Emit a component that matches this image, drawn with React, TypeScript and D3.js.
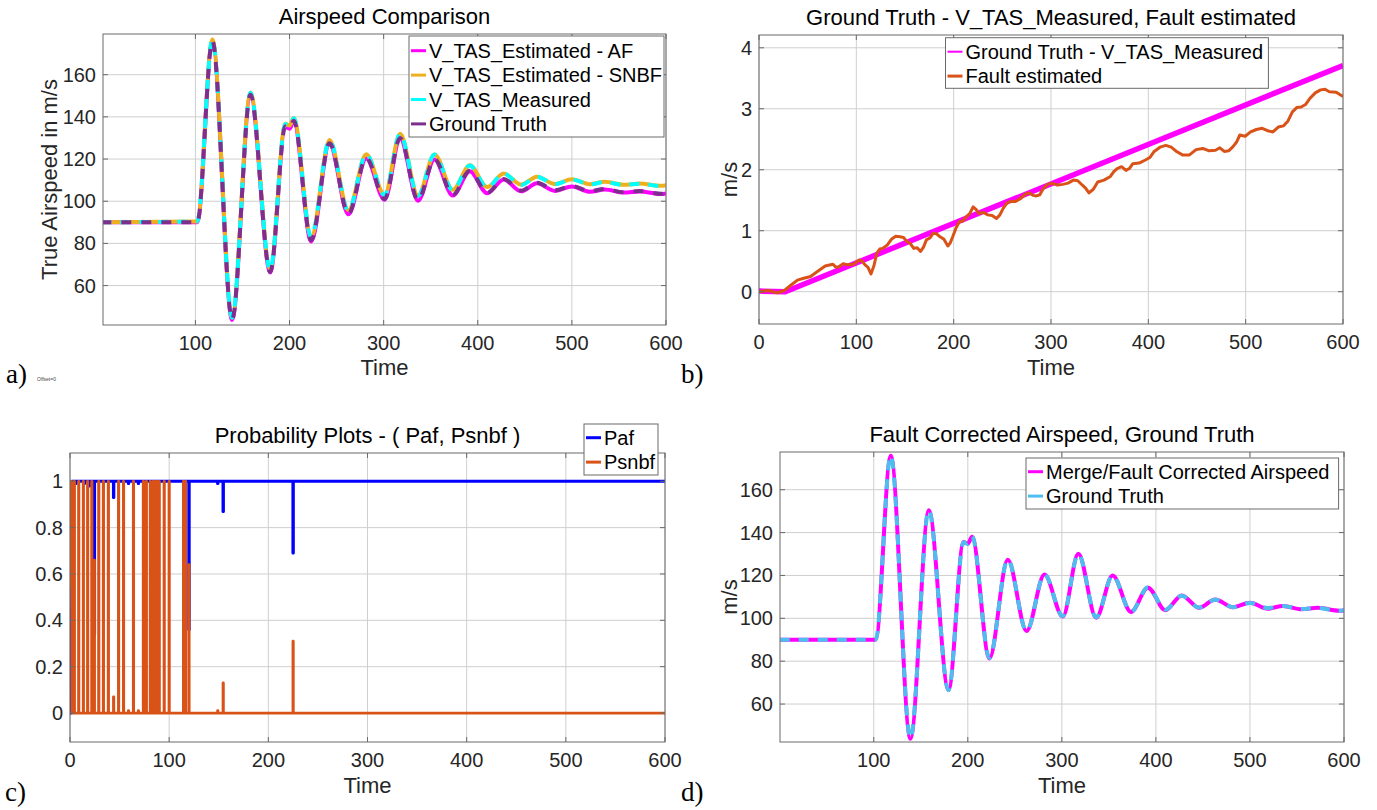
import React from 'react';
import * as d3 from 'd3';

const SANS = '"Liberation Sans", Arial, Helvetica, sans-serif';
const SERIF = '"Liberation Serif", "Times New Roman", Times, serif';

// ---------------- DATA ----------------
// Panel a / d : airspeed key samples (time in s, m/s)
const airTime = [0, 102, 118, 139, 158.5, 179.5, 195.5, 200, 204.5, 223, 242.5, 262.5, 281.5, 301, 317.5, 336.5, 354, 373.5, 391.5, 410, 427.5, 446, 463, 482, 500, 519, 535, 555, 572, 595, 600];
const groundTruth = [90, 90, 176, 44, 150.5, 66.5, 135.5, 134.7, 138.2, 81.5, 127.5, 94, 120.5, 101, 130, 100.5, 120, 103, 114.5, 104, 110.5, 105, 108.7, 105.2, 107.2, 104.8, 105.8, 104.3, 104.8, 103.5, 103.8];
const afEstimate = [90, 90, 175.8, 43.7, 150.3, 66.2, 135.2, 134.4, 137.9, 80.9, 127.2, 93.8, 120.2, 100.7, 129.8, 100.2, 119.8, 102.7, 114.2, 103.8, 110.3, 104.7, 108.5, 104.9, 107, 104.5, 105.5, 104.1, 104.6, 103.4, 103.7];
const tasMeasured = [90, 90.4, 176.6, 44.7, 151.4, 67.5, 136.6, 135.8, 139.4, 82.8, 128.9, 95.5, 122.2, 102.8, 131.9, 102.5, 122.1, 105.2, 116.9, 106.5, 113.1, 107.7, 111.5, 108.1, 110.3, 108, 109.1, 107.7, 108.3, 107.2, 107.5];
const snbfEstimate = [90, 90.4, 176.7, 44.9, 151.5, 67.7, 136.7, 135.9, 139.5, 83, 129, 95.7, 122.3, 103, 132, 102.7, 122.2, 105.4, 117, 106.7, 113.2, 107.9, 111.6, 108.2, 110.4, 108.1, 109.2, 107.8, 108.4, 107.3, 107.6];
const mergedAirspeed = [90, 90, 175.9, 43.8, 150.4, 66.6, 135.6, 134.8, 138.1, 81.3, 127.3, 94.1, 120.4, 100.8, 130.1, 100.3, 120, 103, 114.3, 103.8, 110.7, 104.9, 108.8, 105.2, 107.3, 104.5, 105.8, 104.2, 104.9, 103.5, 103.7];

// Panel b
const gtDiffTime = [0, 27, 600];
const gtDiff = [0.01, 0, 3.71];
const faultTime = [0, 9.5, 19, 26, 33, 39.5, 46, 53, 60, 68, 76, 79, 82, 86.5, 91, 97, 103, 106, 109, 112, 115, 118, 121, 124, 127, 131.5, 136, 140.5, 145, 148.5, 152, 155.5, 159, 162.5, 166, 169, 172, 175.5, 179, 182.5, 186, 190, 194, 196.5, 199, 202.5, 206, 209.5, 213, 216.5, 220, 223, 226, 230.5, 235, 239.5, 244, 247.5, 251, 254.5, 258, 263.5, 269, 273.5, 278, 281.5, 285, 288.5, 292, 296.5, 301, 306.5, 312, 317.5, 323, 327.5, 332, 335.5, 339, 343.5, 348, 354.5, 361, 364.5, 368, 372.5, 377, 380.5, 384, 390.5, 397, 401.5, 406, 412, 418, 423.5, 429, 435.5, 442, 449, 456, 462.5, 469, 473.5, 478, 482.5, 487, 490.5, 494, 499.5, 505, 511, 517, 522.5, 528, 533.5, 539, 543.5, 548, 552.5, 557, 561.5, 566, 571.5, 577, 581.5, 586, 593, 600];
const faultEstimated = [0, 0.02, -0.02, 0.02, 0.11, 0.19, 0.22, 0.25, 0.33, 0.42, 0.45, 0.4, 0.41, 0.46, 0.44, 0.45, 0.52, 0.5, 0.44, 0.4, 0.29, 0.42, 0.63, 0.7, 0.71, 0.76, 0.86, 0.91, 0.9, 0.89, 0.82, 0.79, 0.71, 0.72, 0.66, 0.73, 0.85, 0.88, 0.96, 0.95, 0.9, 0.86, 0.75, 0.8, 0.9, 1.05, 1.15, 1.16, 1.23, 1.28, 1.39, 1.35, 1.28, 1.3, 1.26, 1.25, 1.2, 1.26, 1.37, 1.45, 1.48, 1.48, 1.53, 1.6, 1.62, 1.58, 1.57, 1.59, 1.69, 1.76, 1.78, 1.75, 1.76, 1.78, 1.83, 1.82, 1.75, 1.7, 1.62, 1.68, 1.8, 1.83, 1.89, 1.97, 2.02, 2.05, 1.99, 2.02, 2.1, 2.11, 2.16, 2.2, 2.3, 2.37, 2.4, 2.37, 2.3, 2.24, 2.24, 2.33, 2.35, 2.31, 2.32, 2.36, 2.3, 2.31, 2.38, 2.45, 2.57, 2.55, 2.62, 2.66, 2.68, 2.64, 2.62, 2.7, 2.72, 2.8, 2.95, 3.02, 3.03, 3.07, 3.17, 3.26, 3.31, 3.32, 3.28, 3.27, 3.2];

// Panel c
const probStartTime = [0, 0.3, 1.6, 1.9];
const pafStart = [0.45, 0, 0, 1];
const psnbfStart = [0.55, 1, 1, 0];
const pafDipTime = [6, 14.5, 19.5, 24.6, 44, 59, 69, 89, 120, 149, 154.5, 225];
const pafDipValue = [0.99, 0.99, 0.98, 0.34, 0.93, 0.99, 0.99, 0.93, 0.36, 0.99, 0.87, 0.69];
const psnbfSpikeTime = [4.4, 8.8, 13.5, 17.8, 22, 24.6, 29, 33.7, 38.7, 44, 49, 54, 59, 64, 69, 74, 77, 81, 84, 86, 88, 90, 95, 100, 114.5, 116.5, 120, 149, 154.5, 225];
const psnbfSpikeHeight = [1, 1, 1, 1, 1, 0.66, 1, 1, 1, 0.07, 1, 1, 0.01, 1, 0.01, 1, 1, 1, 1, 1, 1, 1, 1, 1, 1, 1, 0.64, 0.01, 0.13, 0.31];

// ticks
const airXTicks = [100, 200, 300, 400, 500, 600];
const fullXTicks = [0, 100, 200, 300, 400, 500, 600];
const airYTicks = [60, 80, 100, 120, 140, 160];
const faultYTicks = [0, 1, 2, 3, 4];
const probYTicks = [0, 0.2, 0.4, 0.6, 0.8, 1];

// ---------------- HELPERS ----------------
type Pt = [number, number];
const zip = (xs: number[], ys: number[]): Pt[] => xs.map((t, i) => [t, ys[i]] as Pt);

function pulseSeries(st: number[], sv: number[], times: number[], vals: number[], base: number, endT: number, w: number): Pt[] {
  const pts: Pt[] = zip(st, sv);
  times.forEach((t, i) => {
    pts.push([t - w / 2, base], [t - w / 2, vals[i]], [t + w / 2, vals[i]], [t + w / 2, base]);
  });
  pts.push([endT, base]);
  return pts;
}

type Line = { pts: Pt[]; color: string; width: number; dash?: string; curve?: any; opacity?: number };
type LegendItem = { label: string; color: string; width: number };
type PanelCfg = {
  id: string;
  l: number; r: number; t: number; b: number;
  xDomain: [number, number]; yDomain: [number, number];
  xTicks: number[]; yTicks: number[];
  title: string; titleY: number;
  xlabelY: number;
  ylabel: string; ylabelX: number;
  lines: Line[];
  legend: { x0: number; y0: number; x1: number; y1: number; rowY: number; items: LegendItem[] };
};

function Panel({ c }: { c: PanelCfg }) {
  const x = d3.scaleLinear().domain(c.xDomain).range([c.l, c.r]);
  const y = d3.scaleLinear().domain(c.yDomain).range([c.b, c.t]);
  const grid = '#cfcfcf';
  const axisCol = '#6a6a6a';
  const tickLen = 5;
  const cx = (c.l + c.r) / 2;
  const cy = (c.t + c.b) / 2;
  return (
    <g>
      <defs>
        <clipPath id={`clip-${c.id}`}>
          <rect x={c.l} y={c.t} width={c.r - c.l} height={c.b - c.t} />
        </clipPath>
      </defs>
      <rect x={c.l} y={c.t} width={c.r - c.l} height={c.b - c.t} fill="#fff" />
      {c.xTicks.map((v) => (
        <line key={'gx' + v} x1={x(v)} x2={x(v)} y1={c.t} y2={c.b} stroke={grid} strokeWidth={1} />
      ))}
      {c.yTicks.map((v) => (
        <line key={'gy' + v} x1={c.l} x2={c.r} y1={y(v)} y2={y(v)} stroke={grid} strokeWidth={1} />
      ))}
      <g clipPath={`url(#clip-${c.id})`}>
        {c.lines.map((ln, i) => {
          const gen = d3.line<Pt>().x((d) => x(d[0])).y((d) => y(d[1])).curve(ln.curve || d3.curveLinear);
          return (
            <path key={i} d={gen(ln.pts) || ''} fill="none" stroke={ln.color} strokeWidth={ln.width}
              strokeDasharray={ln.dash} strokeLinejoin="round" strokeOpacity={ln.opacity ?? 1} />
          );
        })}
      </g>
      {c.xTicks.map((v) => (
        <g key={'tx' + v}>
          <line x1={x(v)} x2={x(v)} y1={c.b} y2={c.b - tickLen} stroke={axisCol} />
          <line x1={x(v)} x2={x(v)} y1={c.t} y2={c.t + tickLen} stroke={axisCol} />
          <text x={x(v)} y={c.b + 25} textAnchor="middle" fontFamily={SANS} fontSize={20} fill="#262626">{v}</text>
        </g>
      ))}
      {c.yTicks.map((v) => (
        <g key={'ty' + v}>
          <line x1={c.l} x2={c.l + tickLen} y1={y(v)} y2={y(v)} stroke={axisCol} />
          <line x1={c.r} x2={c.r - tickLen} y1={y(v)} y2={y(v)} stroke={axisCol} />
          <text x={c.l - 7} y={y(v)} dy="0.35em" textAnchor="end" fontFamily={SANS} fontSize={20} fill="#262626">{v}</text>
        </g>
      ))}
      <rect x={c.l} y={c.t} width={c.r - c.l} height={c.b - c.t} fill="none" stroke={axisCol} strokeWidth={1} />
      <text x={cx} y={c.titleY} textAnchor="middle" fontFamily={SANS} fontSize={22} fill="#000">{c.title}</text>
      <text x={cx} y={c.xlabelY} textAnchor="middle" fontFamily={SANS} fontSize={22} fill="#262626">Time</text>
      <text transform={`translate(${c.ylabelX},${cy}) rotate(-90)`} textAnchor="middle" fontFamily={SANS} fontSize={22} fill="#262626">{c.ylabel}</text>
      <g>
        <rect x={c.legend.x0} y={c.legend.y0} width={c.legend.x1 - c.legend.x0} height={c.legend.y1 - c.legend.y0} fill="#fff" stroke={axisCol} strokeWidth={1} />
        {c.legend.items.map((it, i) => {
          const ry = c.legend.rowY + i * 24.4;
          return (
            <g key={it.label}>
              <line x1={c.legend.x0 + 2} x2={c.legend.x0 + 17} y1={ry} y2={ry} stroke={it.color} strokeWidth={it.width} />
              <text x={c.legend.x0 + 20} y={ry + 7} fontFamily={SANS} fontSize={20} fill="#000">{it.label}</text>
            </g>
          );
        })}
      </g>
    </g>
  );
}

export default function App() {
  const mono = d3.curveMonotoneX;
  const panelA: PanelCfg = {
    id: 'a', l: 103, r: 666, t: 34, b: 325,
    xDomain: [1.8, 600], yDomain: [41.3, 179.3],
    xTicks: airXTicks, yTicks: airYTicks,
    title: 'Airspeed Comparison', titleY: 24, xlabelY: 375,
    ylabel: 'True Airspeed in m/s', ylabelX: 57,
    lines: [
      { pts: zip(airTime, afEstimate), color: '#FF00FF', width: 4, curve: mono },
      { pts: zip(airTime, snbfEstimate), color: '#EDB120', width: 4, curve: mono },
      { pts: zip(airTime, tasMeasured), color: '#00FFFF', width: 4, curve: mono, dash: '10 9' },
      { pts: zip(airTime, groundTruth), color: '#7E2F8E', width: 4, curve: mono, dash: '10 10' },
    ],
    legend: {
      x0: 409, y0: 36, x1: 664, y1: 137, rowY: 50.7,
      items: [
        { label: 'V_TAS_Estimated - AF', color: '#FF00FF', width: 3 },
        { label: 'V_TAS_Estimated - SNBF', color: '#EDB120', width: 3 },
        { label: 'V_TAS_Measured', color: '#00FFFF', width: 3 },
        { label: 'Ground Truth', color: '#7E2F8E', width: 3 },
      ],
    },
  };
  const panelB: PanelCfg = {
    id: 'b', l: 759, r: 1343, t: 35, b: 324,
    xDomain: [0, 600], yDomain: [-0.53, 4.21],
    xTicks: fullXTicks, yTicks: faultYTicks,
    title: 'Ground Truth - V_TAS_Measured, Fault estimated', titleY: 25, xlabelY: 375,
    ylabel: 'm/s', ylabelX: 737,
    lines: [
      { pts: zip(gtDiffTime, gtDiff), color: '#FF00FF', width: 5.5 },
      { pts: zip(faultTime, faultEstimated), color: '#D95319', width: 3 },
    ],
    legend: {
      x0: 945.5, y0: 37.7, x1: 1268.4, y1: 88.3, rowY: 51.7,
      items: [
        { label: 'Ground Truth - V_TAS_Measured', color: '#FF00FF', width: 2 },
        { label: 'Fault estimated', color: '#D95319', width: 3 },
      ],
    },
  };
  const panelC: PanelCfg = {
    id: 'c', l: 70, r: 665, t: 453, b: 742,
    xDomain: [0, 600], yDomain: [-0.125, 1.122],
    xTicks: fullXTicks, yTicks: probYTicks,
    title: 'Probability Plots - ( Paf, Psnbf )', titleY: 443, xlabelY: 793,
    ylabel: '', ylabelX: 40,
    lines: [
      { pts: pulseSeries(probStartTime, pafStart, pafDipTime, pafDipValue, 1, 600, 0.4), color: '#0000FF', width: 3 },
      { pts: pulseSeries(probStartTime, psnbfStart, psnbfSpikeTime, psnbfSpikeHeight, 0, 600, 0.4), color: '#D95319', width: 2.7 },
    ],
    legend: {
      x0: 584, y0: 424, x1: 658, y1: 475, rowY: 437.7,
      items: [
        { label: 'Paf', color: '#0000FF', width: 3 },
        { label: 'Psnbf', color: '#D95319', width: 3 },
      ],
    },
  };
  const panelD: PanelCfg = {
    id: 'd', l: 780, r: 1344, t: 452, b: 742,
    xDomain: [0.3, 600], yDomain: [42.3, 177.6],
    xTicks: airXTicks, yTicks: airYTicks,
    title: 'Fault Corrected Airspeed, Ground Truth', titleY: 442, xlabelY: 793,
    ylabel: 'm/s', ylabelX: 737,
    lines: [
      { pts: zip(airTime, mergedAirspeed), color: '#FF00FF', width: 4, curve: mono },
      { pts: zip(airTime, groundTruth), color: '#4DBEEE', width: 4, curve: mono, dash: '10 9' },
    ],
    legend: {
      x0: 1026, y0: 458, x1: 1338.6, y1: 509, rowY: 471.7,
      items: [
        { label: 'Merge/Fault Corrected Airspeed', color: '#FF00FF', width: 3 },
        { label: 'Ground Truth', color: '#4DBEEE', width: 3 },
      ],
    },
  };

  return (
    <svg width={1377} height={810} style={{ position: 'absolute', left: 0, top: 0, background: '#fff' }}>
      <rect x={0} y={0} width={1377} height={810} fill="#fff" />
      <Panel c={panelA} />
      <Panel c={panelB} />
      <Panel c={panelC} />
      <Panel c={panelD} />
      <text x={6} y={383} fontFamily={SERIF} fontSize={27} fill="#000">a)</text>
      <text x={37} y={381} fontFamily={SANS} fontSize={5} fill="#444">Offset=0</text>
      <text x={681} y={383} fontFamily={SERIF} fontSize={27} fill="#000">b)</text>
      <text x={5} y={801} fontFamily={SERIF} fontSize={27} fill="#000">c)</text>
      <text x={681} y={801} fontFamily={SERIF} fontSize={27} fill="#000">d)</text>
    </svg>
  );
}
